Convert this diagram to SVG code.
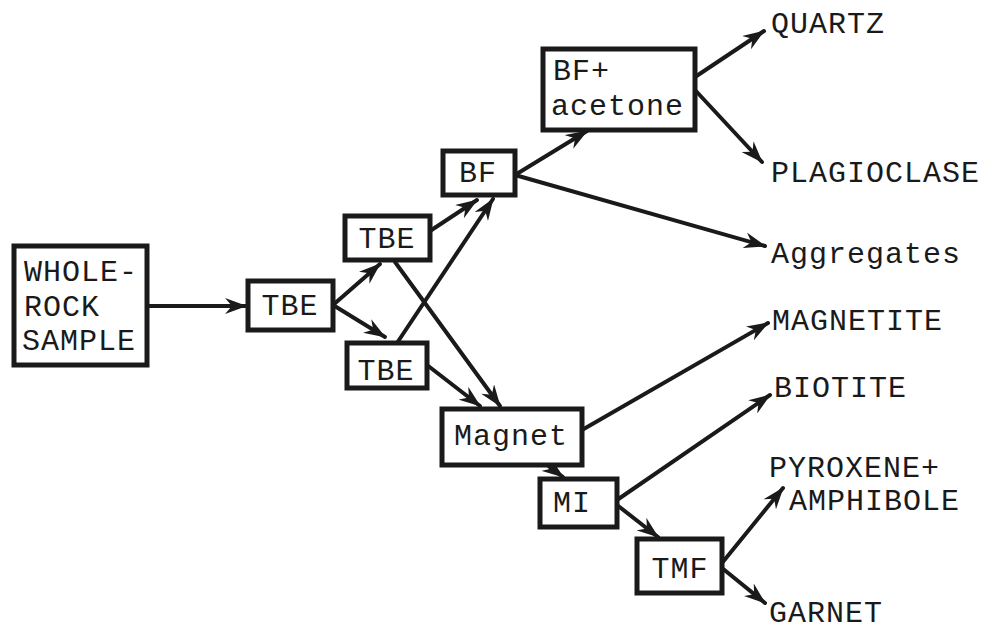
<svg xmlns="http://www.w3.org/2000/svg" width="992" height="630" viewBox="0 0 992 630">
<defs>
<style>
.box{fill:#fff;stroke:#1a1a1a;stroke-width:5}
.t{font-family:"Liberation Mono","DejaVu Sans Mono",monospace;font-size:30px;fill:#1a1a1a;letter-spacing:1px}
.c{text-anchor:middle}
.ln{fill:none;stroke:#1a1a1a;stroke-width:4;stroke-linecap:round}
</style>
<marker id="ah" viewBox="0 0 22 16" refX="21" refY="8" markerWidth="22" markerHeight="16" markerUnits="userSpaceOnUse" orient="auto">
<path d="M0,0 L22,8 L0,16 L7,8 z" fill="#1a1a1a"/>
</marker>
</defs>
<rect width="992" height="630" fill="#fff"/>
<g id="connectors">
<line class="ln" x1="147" y1="306" x2="246" y2="306" marker-end="url(#ah)"/>
<line class="ln" x1="333" y1="305" x2="380" y2="264" marker-end="url(#ah)"/>
<line class="ln" x1="333" y1="305" x2="385" y2="337" marker-end="url(#ah)"/>
<line class="ln" x1="430" y1="231" x2="477" y2="200" marker-end="url(#ah)"/>
<line class="ln" x1="397" y1="343" x2="493" y2="199" marker-end="url(#ah)"/>
<line class="ln" x1="395" y1="262" x2="500" y2="406" marker-end="url(#ah)"/>
<line class="ln" x1="427" y1="365" x2="480" y2="406" marker-end="url(#ah)"/>
<line class="ln" x1="515" y1="175" x2="587" y2="131" marker-end="url(#ah)"/>
<line class="ln" x1="515" y1="175" x2="765" y2="246" marker-end="url(#ah)"/>
<line class="ln" x1="695" y1="77" x2="764" y2="31" marker-end="url(#ah)"/>
<line class="ln" x1="695" y1="90" x2="762" y2="162" marker-end="url(#ah)"/>
<line class="ln" x1="582" y1="430" x2="768" y2="323" marker-end="url(#ah)"/>
<line class="ln" x1="543" y1="462" x2="563" y2="477" marker-end="url(#ah)"/>
<line class="ln" x1="617" y1="500" x2="770" y2="395" marker-end="url(#ah)"/>
<line class="ln" x1="617" y1="505" x2="658" y2="537" marker-end="url(#ah)"/>
<line class="ln" x1="722" y1="563" x2="783" y2="488" marker-end="url(#ah)"/>
<line class="ln" x1="722" y1="568" x2="765" y2="603" marker-end="url(#ah)"/>
</g>
<g id="whole-rock">
<rect class="box" x="14" y="246" width="133" height="119"/>
<text class="t" x="24" y="281">WHOLE-</text>
<text class="t" x="24" y="316">ROCK</text>
<text class="t" x="22" y="350">SAMPLE</text>
</g>
<g id="tbe1">
<rect class="box" x="248" y="281" width="85" height="49"/>
<text class="t c" x="290" y="315">TBE</text>
</g>
<g id="tbe-upper">
<rect class="box" x="345" y="216" width="85" height="44"/>
<text class="t c" x="387" y="248">TBE</text>
</g>
<g id="tbe-lower">
<rect class="box" x="347" y="343" width="80" height="45"/>
<text class="t c" x="386" y="380">TBE</text>
</g>
<g id="bf">
<rect class="box" x="443" y="151" width="72" height="44"/>
<text class="t c" x="478" y="182">BF</text>
</g>
<g id="bf-acetone">
<rect class="box" x="543" y="49" width="152" height="81"/>
<text class="t" x="553" y="80">BF+</text>
<text class="t" x="551" y="115">acetone</text>
</g>
<g id="magnet">
<rect class="box" x="442" y="409" width="140" height="56"/>
<text class="t" x="454" y="445">Magnet</text>
</g>
<g id="mi">
<rect class="box" x="540" y="479" width="77" height="48"/>
<text class="t c" x="572" y="512">MI</text>
</g>
<g id="tmf">
<rect class="box" x="637" y="539" width="85" height="54"/>
<text class="t c" x="680" y="578">TMF</text>
</g>
<g id="quartz"><text class="t" x="771" y="33">QUARTZ</text></g>
<g id="plagioclase"><text class="t" x="771" y="182">PLAGIOCLASE</text></g>
<g id="aggregates"><text class="t" x="771" y="263">Aggregates</text></g>
<g id="magnetite"><text class="t" x="772" y="330">MAGNETITE</text></g>
<g id="biotite"><text class="t" x="774" y="397">BIOTITE</text></g>
<g id="pyroxene"><text class="t" x="769" y="477">PYROXENE+</text><text class="t" x="789" y="510">AMPHIBOLE</text></g>
<g id="garnet"><text class="t" x="769" y="622">GARNET</text></g>
</svg>
